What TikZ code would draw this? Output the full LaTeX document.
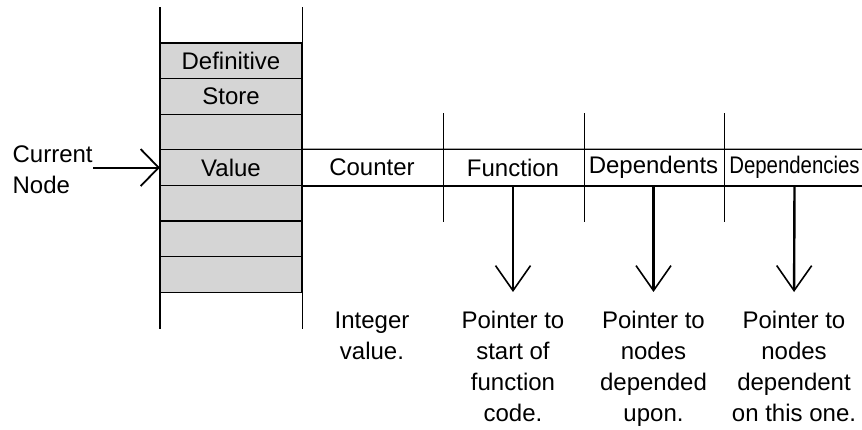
\documentclass[tikz,border=0pt]{standalone}
\usepackage{graphicx}
\usepackage{fontspec}
\setmainfont{Liberation Sans}
\usepackage{tikz}
\usetikzlibrary{arrows.meta}

\newcommand\cellfont{\fontsize{24}{31}\selectfont}

\begin{document}
\begin{tikzpicture}[x=1pt, y=-1pt, line width=1.2pt,
	every node/.style={font=\cellfont},
	cell/.style={draw, fill=gray!33, minimum width=141pt, minimum height=35.6pt, inner sep=0},
	field/.style={minimum width=141pt, minimum height=35.6pt, inner sep=0},
	note/.style={align=center, inner sep=0, anchor=north},
	ptr/.style={line width=2.4pt, shorten >=19pt, -{Straight Barb[length=25pt, width=35pt, line width=1.6pt]}}
]
\useasboundingbox (0,0) rectangle (862,430);
%store column
\foreach \i/\txt in {1/Definitive,2/Store,3/,4/Value,5/,6/,7/}
	\node[cell] (r\i) at (231,{43+35.6*(\i-0.5)}) {\txt};
\draw ([yshift=35pt]r1.north west) -- ([yshift=-36pt]r7.south west);
\draw ([yshift=35pt]r1.north east) -- ([yshift=-36pt]r7.south east);
%node record
\node[field] (cnt) at (372,167.6) {Counter};
\node[field] (fun) at (513,167.6) {Function};
\node[field] (dpn) at (653.5,167.6) {Dependents};
\node[field] (dpc) at (794.5,167.6) {\scalebox{0.85}[1]{Dependencies}};
\draw (r4.north east) -- (dpc.north east);
\draw (r4.south east) -- (dpc.south east);
\foreach \f in {cnt,fun,dpn}
	\draw ([yshift=36pt]\f.north east) -- ([yshift=-36pt]\f.south east);
%current node
\node[align=left, inner sep=0, anchor=north west] (cur) at (12,145) {Current\\Node};
\draw [line width=2pt, -{Straight Barb[length=18pt, width=37pt, line width=1.8pt]}] (cur.east |- r4.west) -- (r4.west);
%notes
\node[note] (cntnote) at (372,311) {Integer\\value.};
\node[note] (funnote) at (513,311) {Pointer to\\start of\\function\\code.};
\node[note] (dpnnote) at (653.5,311) {Pointer to\\nodes\\depended\\upon.};
\node[note] (dpcnote) at (794,311) {Pointer to\\nodes\\dependent\\on this one.};
\draw [ptr] (fun.south) -- (funnote.north);
\draw [ptr] (dpn.south) -- (dpnnote.north);
\draw [ptr] (dpc.south) -- (dpcnote.north);
\end{tikzpicture}
\end{document}
